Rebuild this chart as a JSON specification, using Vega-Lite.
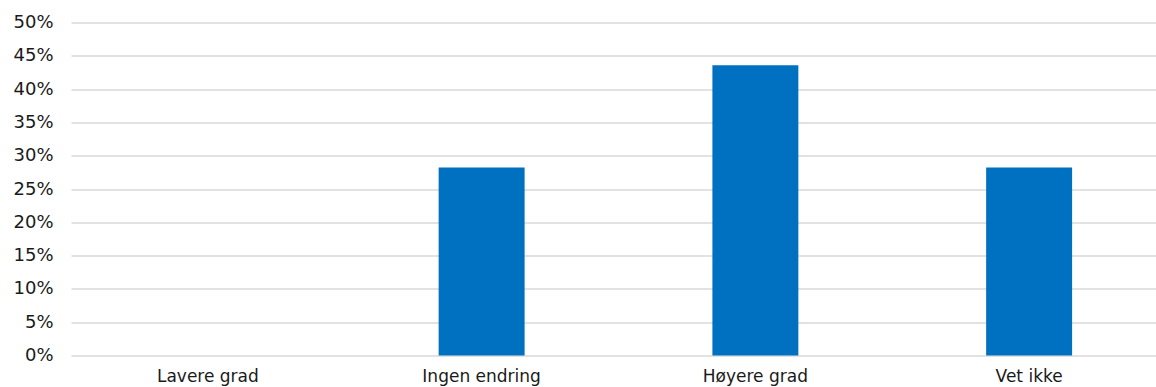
{
  "$schema": "https://vega.github.io/schema/vega-lite/v6.json",
  "autosize": {"type": "none"},
  "padding": {"left": 71, "top": 22.5, "right": 0, "bottom": 31.5},
  "width": 1085,
  "height": 333,
  "background": "white",
  "config": {
    "view": {"stroke": null},
    "font": "DejaVu Sans"
  },
  "data": {
    "values": [
      {"kategori": "Lavere grad", "andel": 0},
      {"kategori": "Ingen endring", "andel": 0.2821},
      {"kategori": "Høyere grad", "andel": 0.4359},
      {"kategori": "Vet ikke", "andel": 0.2821}
    ]
  },
  "mark": {"type": "bar", "color": "#0070C0"},
  "encoding": {
    "x": {
      "field": "kategori",
      "type": "nominal",
      "sort": null,
      "scale": {"range": [0, 1095], "paddingInner": 0.686, "paddingOuter": 0.343},
      "axis": {
        "title": null,
        "labelAngle": 0,
        "domain": false,
        "ticks": false,
        "labelFontSize": 17,
        "labelColor": "#1a1a1a",
        "labelPadding": 13
      }
    },
    "y": {
      "field": "andel",
      "type": "quantitative",
      "scale": {"domain": [0, 0.5], "nice": false},
      "axis": {
        "title": null,
        "format": ".0%",
        "values": [0, 0.05, 0.1, 0.15, 0.2, 0.25, 0.3, 0.35, 0.4, 0.45, 0.5],
        "domain": false,
        "ticks": false,
        "labelFontSize": 18,
        "labelColor": "#1a1a1a",
        "labelPadding": 18,
        "gridColor": "#d9d9d9",
        "gridWidth": 1.5
      }
    }
  }
}
